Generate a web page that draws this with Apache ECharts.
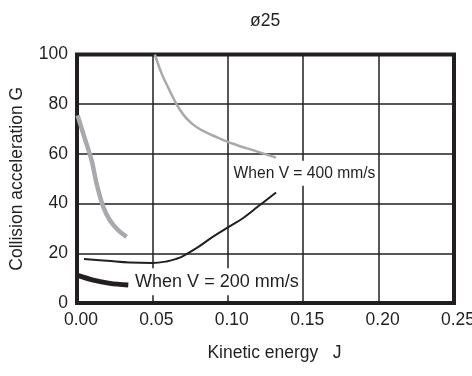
<!DOCTYPE html>
<html><head><meta charset="utf-8">
<script src="https://cdn.jsdelivr.net/npm/echarts@6/dist/echarts.min.js"></script>
<style>html,body{margin:0;padding:0;background:#fff}#c{width:472px;height:376px}</style>
</head><body><div id="c"></div>
<script>
const titleText = "ø25";
const xName = "Kinetic energy   J";
const yName = "Collision acceleration G";
const xTicks = [0, 0.05, 0.10, 0.15, 0.20, 0.25];
const yTicks = [0, 20, 40, 60, 80, 100];

// V = 400 mm/s, upper grey curve
const grayThin = [[0.0516,100],[0.056,92.5],[0.061,86],[0.066,80],[0.0705,75.8],[0.0755,72.6],[0.0813,70.0],[0.088,68],[0.0924,66.8],[0.1034,64.1],[0.1166,61.5],[0.132,58.5]];
// thick grey curve
const grayThick = [[0.0004,75.5],[0.005,66.5],[0.0097,57.4],[0.013,48],[0.0174,38.7],[0.0218,33.3],[0.0273,29.3],[0.0329,26.6]];
// V = 400 mm/s, black curve
const blackThin = [[0.0046,17.7],[0.02,17.0],[0.035,16.3],[0.05,16.1],[0.06,16.8],[0.066,17.8],[0.07,18.8],[0.08,22.4],[0.09,26.6],[0.1,30.4],[0.11,34.1],[0.12,38.8],[0.132,44.5]];
// V = 200 mm/s, thick black curve
const blackThick = [[0,11.2],[0.0108,9.2],[0.0218,7.9],[0.034,7.2]];

const annotations = [
  {pos:[0.1025,52.2], text:"When V = 400 mm/s", size:15.6},
  {pos:[0.0372,8.6], text:"When V = 200 mm/s", size:18}
];

const ink = '#231f20';
const chart = echarts.init(document.getElementById('c'));
chart.setOption({
  animation:false,
  backgroundColor:'#fff',
  textStyle:{fontFamily:'"Liberation Sans", Arial, sans-serif'},
  title:{text:titleText, left:245, top:7, textStyle:{fontSize:17.5, fontWeight:'normal', color:ink, fontFamily:'"Liberation Sans", Arial, sans-serif'}},
  grid:{left:77, right:18, top:54.5, bottom:73, show:true, borderWidth:4, borderColor:ink, backgroundColor:'transparent', containLabel:false, outerBoundsMode:'none'},
  xAxis:{type:'value', min:xTicks[0], max:xTicks[xTicks.length-1], interval:0.05,
    name:xName, nameLocation:'middle', nameGap:41,
    nameTextStyle:{fontSize:17.5, color:ink, padding:[0,0,0,18]},
    axisLine:{show:false}, axisTick:{show:false},
    axisLabel:{fontSize:17.5, color:ink, margin:8, padding:[0,0,0,8], formatter:v=>v.toFixed(2)},
    splitLine:{show:true, lineStyle:{color:ink, width:1.5}}},
  yAxis:{type:'value', min:yTicks[0], max:yTicks[yTicks.length-1], interval:20,
    name:yName, nameLocation:'middle', nameGap:51, nameRotate:90,
    nameTextStyle:{fontSize:17.5, color:ink},
    axisLine:{show:false}, axisTick:{show:false},
    axisLabel:{fontSize:17.5, color:ink, margin:9},
    splitLine:{show:true, lineStyle:{color:ink, width:1.5}}},
  series:[
    {type:'line', data:grayThin, smooth:0.3, symbol:'none', lineStyle:{color:'#a7a9ac', width:2.5}, z:3},
    {type:'line', data:grayThick, smooth:0.3, symbol:'none', lineStyle:{color:'#a7a9ac', width:4.5}, z:3},
    {type:'line', data:blackThin, smooth:0.4, symbol:'none', lineStyle:{color:ink, width:2}, z:3},
    {type:'line', data:blackThick, smooth:0.3, symbol:'none', lineStyle:{color:ink, width:5}, z:3},
    {type:'scatter', symbolSize:0, z:5, silent:true, itemStyle:{opacity:1},
      data:annotations.map(a=>({value:a.pos, name:a.text, itemStyle:{opacity:1}, label:{
        show:true, position:'right', distance:0, formatter:a.text,
        fontSize:a.size, color:ink, opacity:1,
        fontFamily:'"Liberation Sans", Arial, sans-serif',
        backgroundColor:'#fff', padding:[5,2,4,2]}}))}
  ]
});
</script></body></html>
